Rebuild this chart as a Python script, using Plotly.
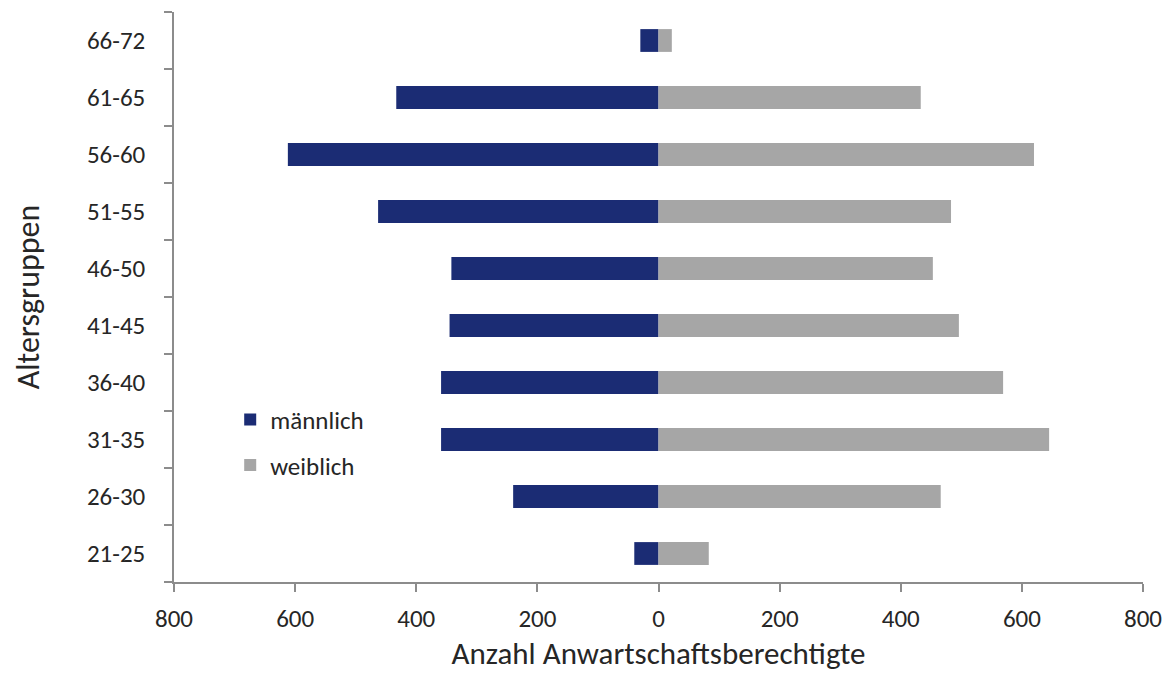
import plotly.graph_objects as go

groups = ["21-25", "26-30", "31-35", "36-40", "41-45", "46-50", "51-55", "56-60", "61-65", "66-72"]
maennlich = [40, 240, 359, 359, 345, 342, 463, 612, 433, 30]
weiblich = [83, 466, 645, 569, 496, 453, 483, 620, 433, 22]
tick_vals = [-800, -600, -400, -200, 0, 200, 400, 600, 800]
tick_text = ["800", "600", "400", "200", "0", "200", "400", "600", "800"]

font = "Carlito, Lato, 'Open Sans', sans-serif"

fig = go.Figure()
fig.add_trace(go.Bar(
    y=groups, x=[-v for v in maennlich], orientation="h", name="männlich",
    marker=dict(color="#1b2c74", line=dict(width=0)), legendgroup="m",
))
fig.add_trace(go.Bar(
    y=groups, x=weiblich, orientation="h", name="weiblich",
    marker=dict(color="#a6a6a6", line=dict(width=0)), legendgroup="w",
))

axis_color = "#8c8c8c"
fig.update_layout(
    barmode="relative",
    bargap=0.6,
    width=1173, height=677,
    margin=dict(l=174, r=30, t=12, b=95),
    plot_bgcolor="white", paper_bgcolor="white",
    font=dict(family=font, size=25, color="#262626"),
    legend=dict(
        x=0.058, y=0.325, xanchor="left", yanchor="top",
        traceorder="grouped", tracegroupgap=10,
        font=dict(size=25), bgcolor="rgba(0,0,0,0)",
        itemwidth=30,
    ),
    xaxis=dict(
        range=[-800, 800], tickvals=tick_vals, ticktext=tick_text,
        showgrid=False, zeroline=False, automargin=False,
        showline=True, linecolor=axis_color, linewidth=1.5,
        ticks="outside", ticklen=8, tickcolor=axis_color, tickwidth=1.5,
        title=dict(text="Anzahl Anwartschaftsberechtigte", font=dict(size=31), standoff=10),
        tickfont=dict(size=25),
        ticklabelstandoff=5,
    ),
    yaxis=dict(
        categoryorder="array", categoryarray=groups,
        showgrid=False, zeroline=False, automargin=False,
        showline=True, linecolor=axis_color, linewidth=1.5,
        ticks="outside", ticklen=8, tickcolor=axis_color, tickwidth=1.5,
        tickson="boundaries",
        title=dict(text="Altersgruppen", font=dict(size=32), standoff=38),
        tickfont=dict(size=25),
        ticklabelstandoff=22,
    ),
)

fig.write_html("out.html")
